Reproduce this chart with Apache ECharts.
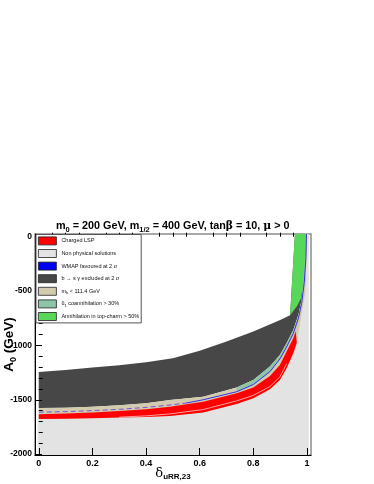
<!DOCTYPE html>
<html><head><meta charset="utf-8">
<script src="https://cdn.jsdelivr.net/npm/echarts@6/dist/echarts.min.js"></script>
<style>html,body{margin:0;padding:0;background:#fff}#c{width:374px;height:484px}</style>
</head><body><div id="c"></div>
<script>
// ---- tick values ----
const xMajorTicks = [0, 0.2, 0.4, 0.6, 0.8, 1];
const xMinorTicks = [0.05,0.1,0.15,0.25,0.3,0.35,0.45,0.5,0.55,0.65,0.7,0.75,0.85,0.9,0.95];
const yMajorTicks = [-2000, -1500, -1000, -500, 0];
const yMinorTicks = [-1900,-1800,-1700,-1600,-1400,-1300,-1200,-1100,-900,-800,-700,-600,-400,-300,-200,-100];

// ---- region boundaries [delta_uRR23, A0 (GeV)] ----
const bsgUpper = [[0,-1244],[0.1,-1226],[0.2,-1204],[0.3,-1183],[0.4,-1155],[0.5,-1118],[0.6,-1048],[0.7,-965],[0.8,-873],[0.9,-765],[0.937,-722],[0.955,25]];
const bsgLower = [[0,-1576],[0.1,-1573],[0.2,-1564],[0.3,-1551],[0.4,-1533],[0.489,-1502],[0.613,-1472],[0.738,-1386],[0.8,-1318],[0.862,-1195],[0.899,-1088],[0.924,-980],[0.949,-857],[0.968,-719],[0.98,-581],[0.986,-400],[0.989,-200],[0.991,25]];
const redTop = [[0,-1634],[0.1,-1627],[0.2,-1617],[0.3,-1604],[0.4,-1588],[0.489,-1564],[0.613,-1518],[0.738,-1441],[0.8,-1386],[0.862,-1281],[0.899,-1180],[0.924,-1057],[0.949,-934],[0.958,-870]];
const redBottom = [[0,-1677],[0.1,-1675],[0.2,-1670],[0.3,-1664],[0.4,-1658],[0.489,-1650],[0.613,-1616],[0.738,-1539],[0.8,-1487],[0.862,-1404],[0.899,-1318],[0.924,-1211],[0.949,-1073],[0.962,-975]];
const outerEdge = [[0.962,-975],[0.974,-811],[0.985,-650],[0.995,-504],[0.999,-194],[1.0,25]];
const redStreak = [[0.3,-1660],[0.4,-1648],[0.489,-1630],[0.613,-1590],[0.738,-1510],[0.8,-1460],[0.862,-1378],[0.899,-1290],[0.924,-1170]];
const wmapLeft = [[0,-1614],[0.1,-1609],[0.2,-1600],[0.3,-1588],[0.4,-1570],[0.489,-1548],[0.55,-1530]];
const wmapRight = [[0.55,-1530],[0.613,-1500],[0.738,-1426],[0.8,-1360],[0.862,-1241],[0.899,-1125],[0.924,-1015],[0.949,-890],[0.968,-750],[0.98,-615],[0.99,-420],[0.996,-200],[0.998,25]];
const greenRegion = [[0.937,-722],[0.955,25],[0.995,25],[0.992,-200],[0.987,-400],[0.979,-560],[0.965,-630],[0.95,-680]];
const greyLeft = -0.004, greyRight = 1.007, yBottom = -2008, yTop = 25;

const names = ['Charged LSP','Non physical solutions','WMAP favoured at 2 \u03c3','b \u2192 s \u03b3 excluded at 2 \u03c3','mh','coann','Annihilation in top-charm > 50%'];
const colors = ['#ff0000','#e3e3e3','#0000ff','#474747','#d2cbae','#8cc6a6','#58d858'];

function rev(a){return a.slice().reverse();}
const greyPoly = [[greyLeft,yBottom],[greyLeft,redBottom[0][1]]].concat(redBottom, outerEdge.slice(1), [[greyRight,yTop],[greyRight,yBottom]]);
const darkPoly = bsgUpper.concat(rev(bsgLower));
const tanPoly = bsgLower.concat(rev(outerEdge), rev(redBottom));
const bsgFrom = bsgLower.filter(p=>p[0]>=0.738);
const wmapFrom = wmapRight.filter(p=>p[0]>=0.738);
const tealPoly = bsgFrom.concat(rev(wmapFrom));
const redPoly = redTop.concat(rev(redBottom));

function poly(name, pts, color){
  return {type:'custom', name:name, data:[0], silent:true, clip:true, z:2,
    itemStyle:{color:color},
    renderItem:function(params, api){
      return {type:'polygon', shape:{points: pts.map(p=>api.coord(p))}, style:{fill:color, stroke:null}};
    }};
}
function line(name, pts, color, width, dashed){
  return {type:'line', name:name, data:pts, showSymbol:false, symbol:'none', silent:true, z:3,
    itemStyle:{color:color},
    lineStyle:{color:color, width:width, type: dashed?[5,3]:'solid'}};
}

const FF = 'Liberation Sans, Arial, Helvetica, sans-serif';
const chart = echarts.init(document.getElementById('c'), null, {renderer:'canvas'});
const legendData = names.map((n,i)=>({name:n, icon:'rect', itemStyle:{color:colors[i], borderColor:'#222', borderWidth:0.8}}));
chart.setOption({
  animation:false,
  backgroundColor:'#fff',
  title:{
    text:'{b|m}{s|0}{b| = 200 GeV, m}{s|1/2}{b| = 400 GeV, tan}{g|\u03b2}{b| = 10, }{g|\u03bc}{b| > 0}',
    left:51, top:213,
    textStyle:{rich:{
      b:{fontFamily:FF, fontWeight:'bold', fontSize:10.8, color:'#000'},
      s:{fontFamily:FF, fontWeight:'bold', fontSize:7.5, color:'#000', padding:[8,0,0,0]},
      g:{fontFamily:'DejaVu Serif, serif', fontSize:10.8, color:'#000'}
    }}
  },
  legend:{
    orient:'vertical', left:36, top:234.5, itemWidth:18, itemHeight:8, itemGap:3.8, z:20,
    padding:[2,2,2,2], backgroundColor:'#fff', borderColor:'#555', borderWidth:1,
    selectedMode:false, data:legendData,
    formatter:function(n){
      if(n==='mh') return '{t|m}{s|h}{t| < 111.4 GeV}';
      if(n==='coann') return '{t|\u0169}{s|1}{t| coannihilation > 30%}';
      return '{t|'+n+'}';
    },
    textStyle:{fontFamily:FF, fontSize:5.5, color:'#111', rich:{
      t:{fontFamily:FF, fontSize:5.5, color:'#111'},
      s:{fontFamily:FF, fontSize:4, color:'#111', padding:[3,0,0,0]}
    }}
  },
  grid:{left:35, right:63, top:234, bottom:29, show:true, borderColor:'#8c8c8c', borderWidth:1.5, backgroundColor:'#fff', containLabel:false, outerBoundsMode:'none'},
  xAxis:[{
    type:'value', min:-0.014, max:1.015, position:'bottom', z:10,
    axisLine:{show:true, onZero:false, lineStyle:{color:'#000', width:1}},
    axisTick:{show:true, inside:true, length:7, customValues:xMajorTicks, lineStyle:{color:'#000'}},
    axisLabel:{show:true, customValues:xMajorTicks, margin:4, fontFamily:FF, fontWeight:'bold', fontSize:9, color:'#000',
      formatter:function(v){return String(Math.round(v*10)/10);}},
    splitLine:{show:false},
    name:'{d|\u03b4}{s|uRR,23}', nameLocation:'middle', nameGap:11, nameMoveOverlap:false,
    nameTextStyle:{rich:{
      d:{fontFamily:'DejaVu Serif, serif', fontSize:13, color:'#000'},
      s:{fontFamily:FF, fontWeight:'bold', fontSize:8, color:'#000', padding:[7,0,0,0]}
    }}
  },{
    type:'value', min:-0.014, max:1.015, position:'bottom', offset:0, z:10,
    axisLine:{show:false},
    axisTick:{show:true, inside:true, length:4, customValues:xMinorTicks, lineStyle:{color:'#000'}},
    axisLabel:{show:false}, splitLine:{show:false}
  }],
  yAxis:[{
    type:'value', min:yBottom, max:yTop, position:'left', z:10,
    axisLine:{show:true, onZero:false, lineStyle:{color:'#000', width:1}},
    axisTick:{show:true, inside:true, length:7, customValues:yMajorTicks, lineStyle:{color:'#000'}},
    axisLabel:{show:true, customValues:yMajorTicks, margin:3, fontFamily:FF, fontWeight:'bold', fontSize:8.5, color:'#000',
      formatter:function(v){return String(v);}},
    splitLine:{show:false},
    name:'{a|A}{s|0}{a| (GeV)}', nameLocation:'middle', nameGap:17, nameRotate:90, nameMoveOverlap:false,
    nameTextStyle:{rich:{
      a:{fontFamily:FF, fontWeight:'bold', fontSize:13.5, color:'#000'},
      s:{fontFamily:FF, fontWeight:'bold', fontSize:9, color:'#000', padding:[8,0,0,0]}
    }}
  },{
    type:'value', min:yBottom, max:yTop, position:'left', offset:0, z:10,
    axisLine:{show:false},
    axisTick:{show:true, inside:true, length:4, customValues:yMinorTicks, lineStyle:{color:'#000'}},
    axisLabel:{show:false}, splitLine:{show:false}
  }],
  series:[
    poly(names[1], greyPoly, colors[1]),
    poly(names[3], darkPoly, colors[3]),
    poly(names[4], tanPoly, colors[4]),
    poly(names[5], tealPoly, colors[5]),
    poly(names[0], redPoly, colors[0]),
    poly(names[6], greenRegion, colors[6]),
    line(names[2], wmapLeft, '#7a50dc', 1, true),
    line(names[2], wmapRight, '#3a2ee8', 1, false),
    line('streak', redStreak, '#ffc8c8', 0.8, false)
  ]
});
</script></body></html>
